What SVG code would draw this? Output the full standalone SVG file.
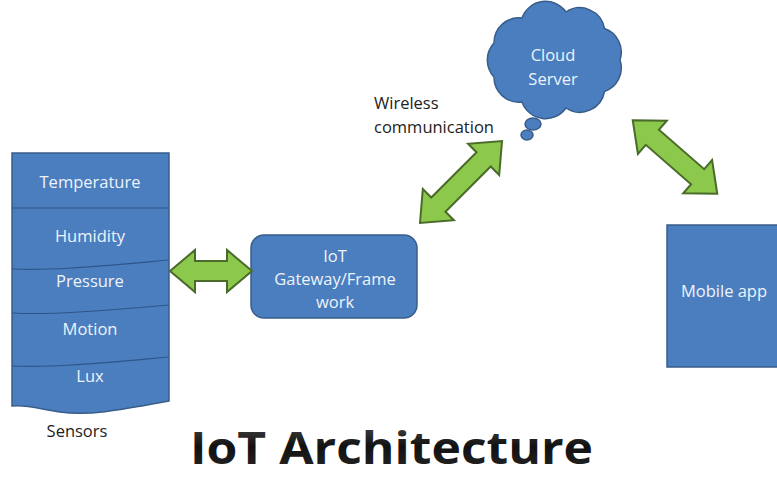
<svg xmlns="http://www.w3.org/2000/svg" width="777" height="477" viewBox="0 0 777 477">
<defs>
<style>
.blue{fill:#4a7ebf;stroke:#385d8a;stroke-width:1.5}
.div{fill:none;stroke:#2f5587;stroke-width:1.2}
.arrow{fill:#8cc84b;stroke:#4a6b2a;stroke-width:2;stroke-linejoin:miter}
.wt{font-family:"Open Sans","DejaVu Sans",sans-serif;font-size:16.5px;fill:#eef3fa;text-anchor:middle}
.bt{font-family:"Open Sans","DejaVu Sans",sans-serif;font-size:16.5px;fill:#222}
</style>
<linearGradient id="tg" x1="0" y1="0" x2="0" y2="1">
<stop offset="0" stop-color="#555"/>
<stop offset="0.5" stop-color="#111"/>
<stop offset="1" stop-color="#2a2a2a"/>
</linearGradient>
</defs>
<rect width="777" height="477" fill="#ffffff"/>

<g id="sensors">
<path class="blue" d="M12,153 L169,153 L169,401 C120,410 90,416 60,412 C40,409 25,404 12,406 Z"/>
<path class="div" d="M12,208 L169,208"/>
<path class="div" d="M12,269 C50,271 100,266 169,260"/>
<path class="div" d="M12,313 C50,315 100,311 169,305"/>
<path class="div" d="M12,366 C50,368 100,363 169,357"/>
<text class="wt" x="90" y="188">Temperature</text>
<text class="wt" x="90" y="242">Humidity</text>
<text class="wt" x="90" y="287">Pressure</text>
<text class="wt" x="90" y="335">Motion</text>
<text class="wt" x="90" y="382">Lux</text>
<text class="bt" x="77" y="437" text-anchor="middle">Sensors</text>
</g>

<g id="gateway">
<rect class="blue" x="251" y="235" width="166" height="83" rx="13"/>
<text class="wt" x="335" y="262">IoT</text>
<text class="wt" x="335" y="285">Gateway/Frame</text>
<text class="wt" x="335" y="308">work</text>
</g>

<g id="cloud">
<path class="blue" d="M620,60 A25,25 0 0 1 604.5,91.5 A25,25 0 0 1 566,108 A25,25 0 0 1 522,102 A25,25 0 0 1 494,77 A25,25 0 0 1 494,43 A25,25 0 0 1 522,18 A25,25 0 0 1 566,12 A25,25 0 0 1 604.5,28.5 A25,25 0 0 1 620,60 Z"/>
<ellipse class="blue" cx="533" cy="124" rx="8" ry="6"/>
<ellipse class="blue" cx="527" cy="135" rx="6" ry="5"/>
<text class="wt" x="553" y="61">Cloud</text>
<text class="wt" x="553" y="85">Server</text>
</g>

<g id="mobile">
<rect class="blue" x="667" y="225" width="120" height="142"/>
<text class="wt" x="724" y="297">Mobile app</text>
</g>

<g id="label-wireless">
<text class="bt" x="374" y="109">Wireless</text>
<text class="bt" x="374" y="133">communication</text>
</g>

<g id="connectors">
<polygon class="arrow" transform="translate(211,271)" points="-41,0 -16,-21 -16,-10 16,-10 16,-21 41,0 16,21 16,10 -16,10 -16,21"/>
<polygon class="arrow" transform="translate(461,182) rotate(-45)" points="-58,0 -32,-22 -32,-10 32,-10 32,-22 58,0 32,22 32,10 -32,10 -32,22"/>
<polygon class="arrow" transform="translate(675,157) rotate(41)" points="-56,0 -30,-22 -30,-10 30,-10 30,-22 56,0 30,22 30,10 -30,10 -30,22"/>
</g>

<g id="title">
<text x="190" y="464" font-family="'Open Sans','DejaVu Sans',sans-serif" font-weight="bold" font-size="45" fill="url(#tg)" textLength="403" lengthAdjust="spacingAndGlyphs">IoT Architecture</text>
</g>
</svg>
